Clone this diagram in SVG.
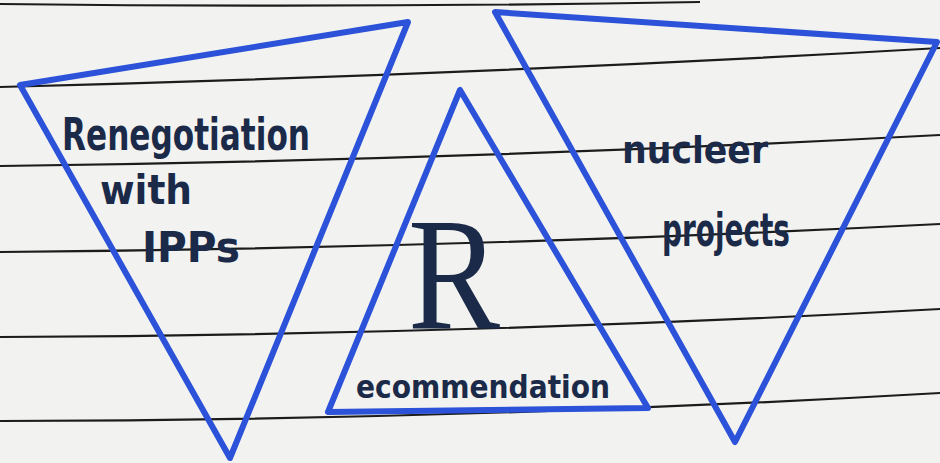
<svg xmlns="http://www.w3.org/2000/svg" width="940" height="463" viewBox="0 0 940 463">
<style>
.paper{fill:#f2f2f0}
.rule{fill:none;stroke:#1c1c1c;stroke-width:2.2}
.tri{fill:none;stroke:#2b52d8;stroke-width:6;stroke-linejoin:round;stroke-linecap:round}
.hand{font-family:"DejaVu Sans Condensed","Liberation Sans Narrow","DejaVu Sans",sans-serif;font-weight:bold;fill:#1b2a48}
</style>
<rect class="paper" x="0" y="0" width="940" height="463"/>
<g id="paper-lines">
<path class="rule" d="M0,4 Q350,8 700,2"/>
<path class="rule" d="M0,87 Q470,75 940,48"/>
<path class="rule" d="M0,166 Q470,160 940,135"/>
<path class="rule" d="M0,252 Q470,248 940,224"/>
<path class="rule" d="M0,337 Q470,335 940,309"/>
<path class="rule" d="M0,421 Q470,420 940,393"/>
</g>
<g id="connectors"></g>
<g id="node-renegotiation">
<polygon class="tri" points="20,85 408,22 230,458"/>
<text class="hand" x="62" y="150" font-size="44" textLength="248" lengthAdjust="spacingAndGlyphs">Renegotiation</text>
<text class="hand" x="100" y="204" font-size="40" textLength="92" lengthAdjust="spacingAndGlyphs">with</text>
<text class="hand" x="142" y="262" font-size="42" textLength="98" lengthAdjust="spacingAndGlyphs">IPPs</text>
</g>
<g id="node-recommendation">
<polygon class="tri" points="460,90 328,412 648,408"/>
<text x="408" y="328" font-family="'Liberation Serif',serif" font-size="160" fill="#1b2a48" textLength="92" lengthAdjust="spacingAndGlyphs">R</text>
<text class="hand" x="356" y="398" font-size="32" textLength="254" lengthAdjust="spacingAndGlyphs">ecommendation</text>
</g>
<g id="node-nuclear">
<polygon class="tri" points="495,12 937,42 735,442"/>
<text class="hand" x="622" y="163" font-size="38" textLength="146" lengthAdjust="spacingAndGlyphs">nucleer</text>
<text class="hand" x="662" y="246" font-size="46" textLength="128" lengthAdjust="spacingAndGlyphs">projects</text>
</g>
</svg>
